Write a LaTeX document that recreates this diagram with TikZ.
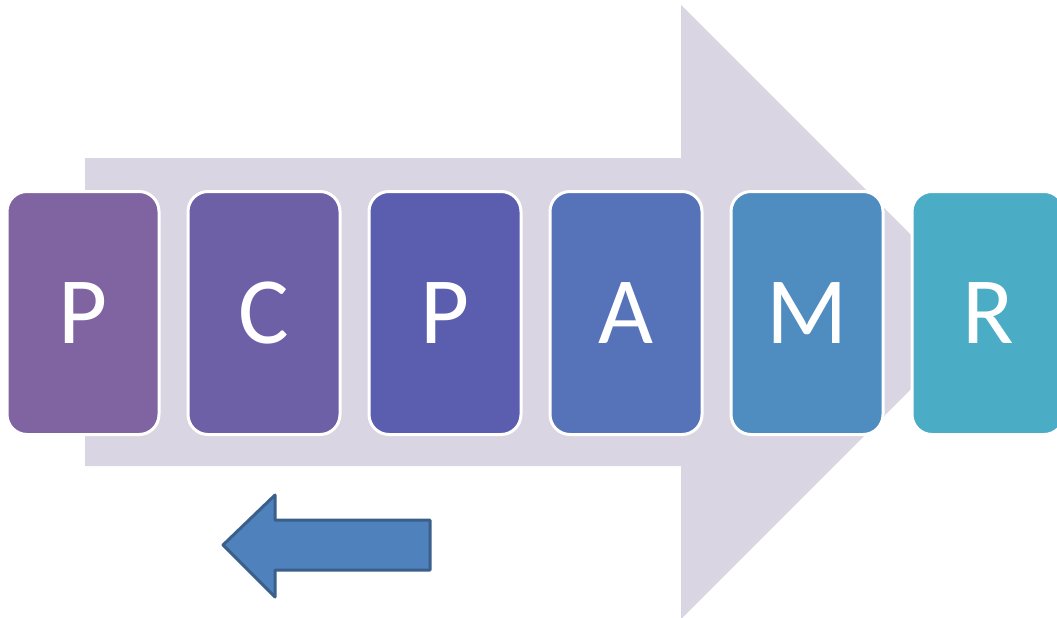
\documentclass[tikz,border=0pt]{standalone}
\usepackage{fontspec}
\setmainfont{Carlito}
\usetikzlibrary{positioning}
\definecolor{flowbg}{HTML}{D9D5E3}
\definecolor{stageA}{HTML}{8064A2}
\definecolor{stageB}{HTML}{6E60A7}
\definecolor{stageC}{HTML}{5B5EAE}
\definecolor{stageD}{HTML}{5672B9}
\definecolor{stageE}{HTML}{4F8CC0}
\definecolor{stageF}{HTML}{4BACC6}
\definecolor{backfill}{HTML}{4F81BD}
\definecolor{backline}{HTML}{3A5F8B}

\begin{document}
\begin{tikzpicture}[
  x=1pt, y=-1pt,
  node distance=26pt,
  stage/.style={draw=white, line width=3pt, rounded corners=20pt, fill=#1,
                minimum width=152pt, minimum height=243pt, inner sep=0pt,
                text=white, font=\fontsize{95}{95}\selectfont},
  flowarrow/.style={fill=flowbg, draw=none},
  backarrow/.style={fill=backfill, draw=backline, line width=3pt, line join=round},
]
\clip (0,0) rectangle (1057,618);

%====================== BIG ARROW ======================
\path[flowarrow] (85,158) -- (681,158) -- (681,5) -- (988,312)
  -- (681,619) -- (681,466) -- (85,466) -- cycle;

%====================== STAGES ======================
\node[stage=stageA] (p1) at (83,313) {P};
\node[stage=stageB, right=of p1] (c)  {C};
\node[stage=stageC, right=of c]  (p2) {P};
\node[stage=stageD, right=of p2] (a)  {A};
\node[stage=stageE, right=of a]  (m)  {M};
\node[stage=stageF, right=of m]  (r)  {R};

%====================== BACK ARROW ======================
\draw[backarrow] (430,520) -- (275,520) -- (275,495) -- (223,545)
  -- (275,597) -- (275,570) -- (430,570) -- cycle;
\end{tikzpicture}
\end{document}
